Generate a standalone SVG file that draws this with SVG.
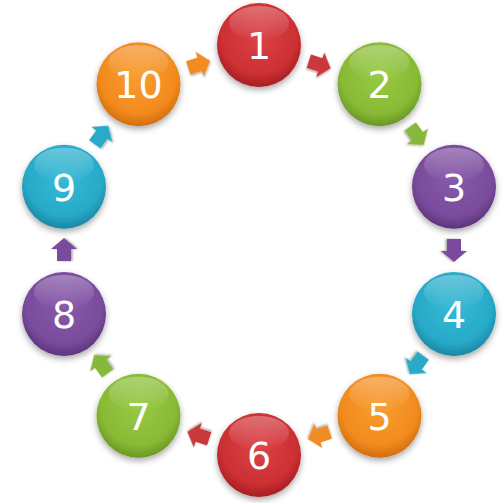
<svg xmlns="http://www.w3.org/2000/svg" width="504" height="503" viewBox="0 0 504 503">
<defs>
<filter id="sh" x="-30%" y="-30%" width="160%" height="170%"><feDropShadow dx="0" dy="3" stdDeviation="3" flood-color="#000" flood-opacity="0.35"/></filter>
<filter id="ash" x="-40%" y="-40%" width="180%" height="180%"><feDropShadow dx="0" dy="1.5" stdDeviation="1.2" flood-color="#000" flood-opacity="0.35"/></filter>
<radialGradient id="gRed" cx="50%" cy="40%" r="60%"><stop offset="0" stop-color="#dc4246"/><stop offset="0.75" stop-color="#cc2f33"/><stop offset="1" stop-color="#a51e22"/></radialGradient>
<radialGradient id="gGreen" cx="50%" cy="40%" r="60%"><stop offset="0" stop-color="#98c944"/><stop offset="0.75" stop-color="#88ba35"/><stop offset="1" stop-color="#6a9624"/></radialGradient>
<radialGradient id="gPurple" cx="50%" cy="40%" r="60%"><stop offset="0" stop-color="#8758aa"/><stop offset="0.75" stop-color="#7a4c9c"/><stop offset="1" stop-color="#5c347c"/></radialGradient>
<radialGradient id="gCyan" cx="50%" cy="40%" r="60%"><stop offset="0" stop-color="#36b9d6"/><stop offset="0.75" stop-color="#27aac8"/><stop offset="1" stop-color="#1a86a2"/></radialGradient>
<radialGradient id="gOrange" cx="50%" cy="40%" r="60%"><stop offset="0" stop-color="#f89c30"/><stop offset="0.75" stop-color="#f28b1e"/><stop offset="1" stop-color="#d06e0e"/></radialGradient>
<linearGradient id="gloss" x1="0" y1="0" x2="0" y2="1"><stop offset="0" stop-color="#fff" stop-opacity="0.3"/><stop offset="1" stop-color="#fff" stop-opacity="0"/></linearGradient>
<path id="arr" d="M-11,-7 L1,-7 L1,-13 L12,0 L1,13 L1,7 L-11,7 Z"/>
<g id="btn"><circle r="42" filter="url(#sh)"/></g>
</defs>
<style>
.num{font-family:"DejaVu Sans","Liberation Sans",sans-serif;font-size:38px;fill:#fff;text-anchor:middle}
.gl{fill:url(#gloss)}
.red{fill:url(#gRed)} .green{fill:url(#gGreen)} .purple{fill:url(#gPurple)} .cyan{fill:url(#gCyan)} .orange{fill:url(#gOrange)}
.ar{filter:url(#ash)}
.ared{fill:#c9383b} .agreen{fill:#86b83a} .apurple{fill:#7a4c9c} .acyan{fill:#2aaac8} .aorange{fill:#f08c22}
</style>
<rect width="504" height="503" fill="#fff"/>
<g id="connectors">
<use href="#arr" class="ar ared" transform="translate(319.3,64.5) rotate(18)"/>
<use href="#arr" class="ar agreen" transform="translate(416.8,135.4) rotate(54)"/>
<use href="#arr" class="ar apurple" transform="translate(454,250) rotate(90)"/>
<use href="#arr" class="ar acyan" transform="translate(416.8,364.6) rotate(126)"/>
<use href="#arr" class="ar aorange" transform="translate(319.3,435.5) rotate(162)"/>
<use href="#arr" class="ar ared" transform="translate(198.7,435.5) rotate(198)"/>
<use href="#arr" class="ar agreen" transform="translate(101.2,364.6) rotate(234)"/>
<use href="#arr" class="ar apurple" transform="translate(64,250) rotate(270)"/>
<use href="#arr" class="ar acyan" transform="translate(101.2,135.4) rotate(306)"/>
<use href="#arr" class="ar aorange" transform="translate(198.7,64.5) rotate(342)"/>
</g>
<g id="n1" transform="translate(259,45)"><use href="#btn" class="red"/><ellipse class="gl" cx="0" cy="-22" rx="30" ry="17"/><text class="num" y="14">1</text></g>
<g id="n2" transform="translate(379.5,84.2)"><use href="#btn" class="green"/><ellipse class="gl" cx="0" cy="-22" rx="30" ry="17"/><text class="num" y="14">2</text></g>
<g id="n3" transform="translate(454,186.7)"><use href="#btn" class="purple"/><ellipse class="gl" cx="0" cy="-22" rx="30" ry="17"/><text class="num" y="14">3</text></g>
<g id="n4" transform="translate(454,314)"><use href="#btn" class="cyan"/><ellipse class="gl" cx="0" cy="-22" rx="30" ry="17"/><text class="num" y="14">4</text></g>
<g id="n5" transform="translate(379.5,415.8)"><use href="#btn" class="orange"/><ellipse class="gl" cx="0" cy="-22" rx="30" ry="17"/><text class="num" y="14">5</text></g>
<g id="n6" transform="translate(259,455)"><use href="#btn" class="red"/><ellipse class="gl" cx="0" cy="-22" rx="30" ry="17"/><text class="num" y="14">6</text></g>
<g id="n7" transform="translate(138.5,415.8)"><use href="#btn" class="green"/><ellipse class="gl" cx="0" cy="-22" rx="30" ry="17"/><text class="num" y="14">7</text></g>
<g id="n8" transform="translate(64,314)"><use href="#btn" class="purple"/><ellipse class="gl" cx="0" cy="-22" rx="30" ry="17"/><text class="num" y="14">8</text></g>
<g id="n9" transform="translate(64,186.7)"><use href="#btn" class="cyan"/><ellipse class="gl" cx="0" cy="-22" rx="30" ry="17"/><text class="num" y="14">9</text></g>
<g id="n10" transform="translate(138.5,84.2)"><use href="#btn" class="orange"/><ellipse class="gl" cx="0" cy="-22" rx="30" ry="17"/><text class="num" y="14">10</text></g>
</svg>
